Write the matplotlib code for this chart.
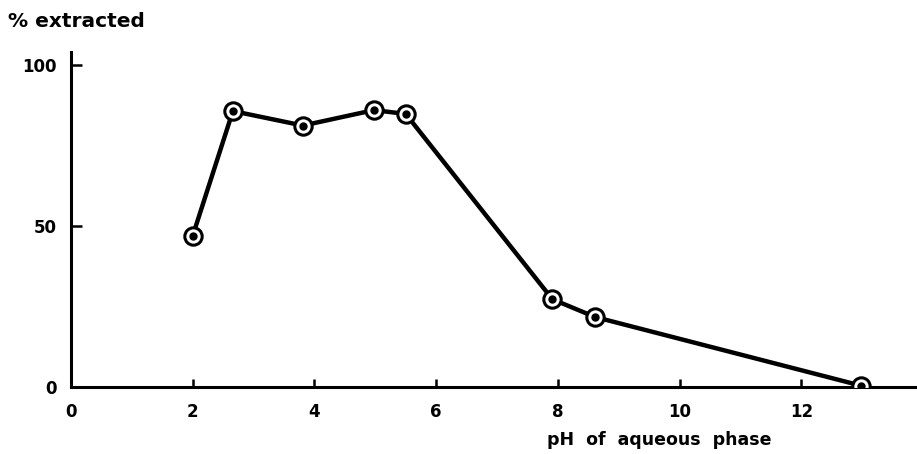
import matplotlib.pyplot as plt

# pH vs % extracted
ph = [2.0, 2.66, 3.81, 4.98, 5.50, 7.91, 8.61, 12.98]
extracted = [47.0, 85.7, 81.2, 86.0, 84.8, 27.3, 21.8, 0.5]
xticks = [0, 2, 4, 6, 8, 10, 12]
yticks = [0, 50, 100]

plt.rcParams['font.family'] = ['DejaVu Sans']
plt.rcParams['font.weight'] = 'bold'

fig = plt.figure(figsize=(9.17, 4.54), dpi=100)
ax = fig.add_axes([0.0774, 0.147, 0.9226, 0.739])

ax.plot(ph, extracted, color='black', lw=3.2, solid_joinstyle='round', zorder=2)
ax.plot(ph, extracted, ls='none', marker='o', ms=12.5, mfc='white',
        mec='black', mew=2.2, zorder=3)
ax.plot(ph, extracted, ls='none', marker='o', ms=5, color='black', zorder=4)

ax.set_xlim(0, 13.9)
ax.set_ylim(0, 104.1)
ax.spines['top'].set_visible(False)
ax.spines['right'].set_visible(False)
ax.spines['left'].set_linewidth(2.2)
ax.spines['bottom'].set_linewidth(2.2)

ax.set_xticks(xticks)
ax.set_yticks(yticks)
ax.tick_params(axis='x', direction='in', length=6, width=1.8, pad=11, labelsize=12)
ax.tick_params(axis='y', direction='in', length=8, width=1.8, pad=10, labelsize=12)
for lab in ax.get_xticklabels() + ax.get_yticklabels():
    lab.set_fontweight('bold')

fig.text(0.009, 0.953, '% extracted', fontsize=14.5, fontweight='bold', va='center', ha='left')
fig.text(0.597, 0.03, 'pH  of  aqueous  phase', fontsize=12.5, fontweight='bold',
         va='center', ha='left')

fig.savefig('out.png', dpi=100)
